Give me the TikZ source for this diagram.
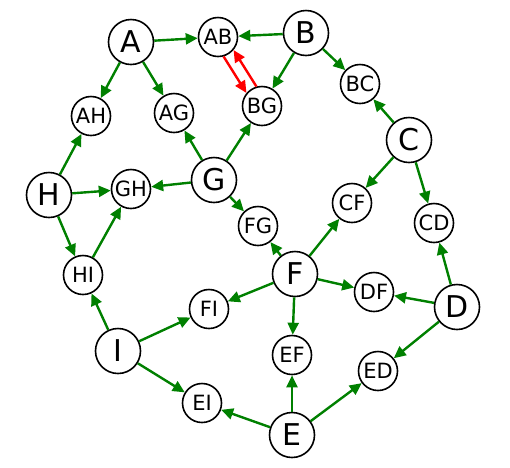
\documentclass[tikz,border=0pt]{standalone}
\usepackage{fontspec}
\setmainfont{DejaVu Sans}
\usetikzlibrary{arrows.meta}

\begin{document}
\begin{tikzpicture}[x=1pt, y=-1pt,
    every node/.style={circle, draw, line width=1.6pt, inner sep=0pt, fill=white},
    big/.style={minimum size=45pt, font=\fontsize{30}{30}\selectfont},
    small/.style={minimum size=39pt, font=\fontsize{21}{21}\selectfont},
    link/.style={-{Triangle[length=12pt,width=11pt]}, line width=2.4pt, draw=green!50!black, fill=green!50!black},
    back/.style={-{Triangle[length=12pt,width=11pt]}, line width=2.4pt, draw=red, fill=red}]
  \useasboundingbox (0,0) rectangle (510,467);

  % letters
  \node [big] (A) at (131,42) {A};
  \node [big] (B) at (306,33) {B};
  \node [big] (C) at (409,140) {C};
  \node [big] (D) at (457,307) {D};
  \node [big] (E) at (292,435) {E};
  \node [big] (F) at (295,274) {F};
  \node [big] (G) at (214,180) {G};
  \node [big] (H) at (49,195) {H};
  \node [big] (I) at (118,351) {I};

  % pairs
  \node [small] (AB) at (218,37) {AB};
  \node [small] (BC) at (360,84) {BC};
  \node [small] (BG) at (262,106) {BG};
  \node [small] (AG) at (174,113) {AG};
  \node [small] (AH) at (91,116) {AH};
  \node [small] (GH) at (131,189) {GH};
  \node [small] (CF) at (352,203) {CF};
  \node [small] (CD) at (434,223) {CD};
  \node [small] (FG) at (258,226) {FG};
  \node [small] (HI) at (83,275) {HI};
  \node [small] (FI) at (209,309) {FI};
  \node [small] (DF) at (374,292) {DF};
  \node [small] (EF) at (292,355) {EF};
  \node [small] (ED) at (378,371) {ED};
  \node [small] (EI) at (202,403) {EI};

  \foreach \from/\to in {A/AB, B/AB, A/AH, A/AG, B/BG, B/BC, C/BC, C/CF, C/CD,
      D/CD, D/DF, D/ED, G/AG, G/BG, G/GH, G/FG, H/AH, H/GH, H/HI, HI/GH,
      I/HI, I/FI, I/EI, F/FI, F/CF, F/FG, F/DF, F/EF, E/EF, E/EI, E/ED}
    \draw [link] (\from) -- (\to);

  % the two-way pair
  \draw [back] (AB.-74) -- (BG.140);
  \draw [back] (BG.106) -- (AB.-40);
\end{tikzpicture}
\end{document}
